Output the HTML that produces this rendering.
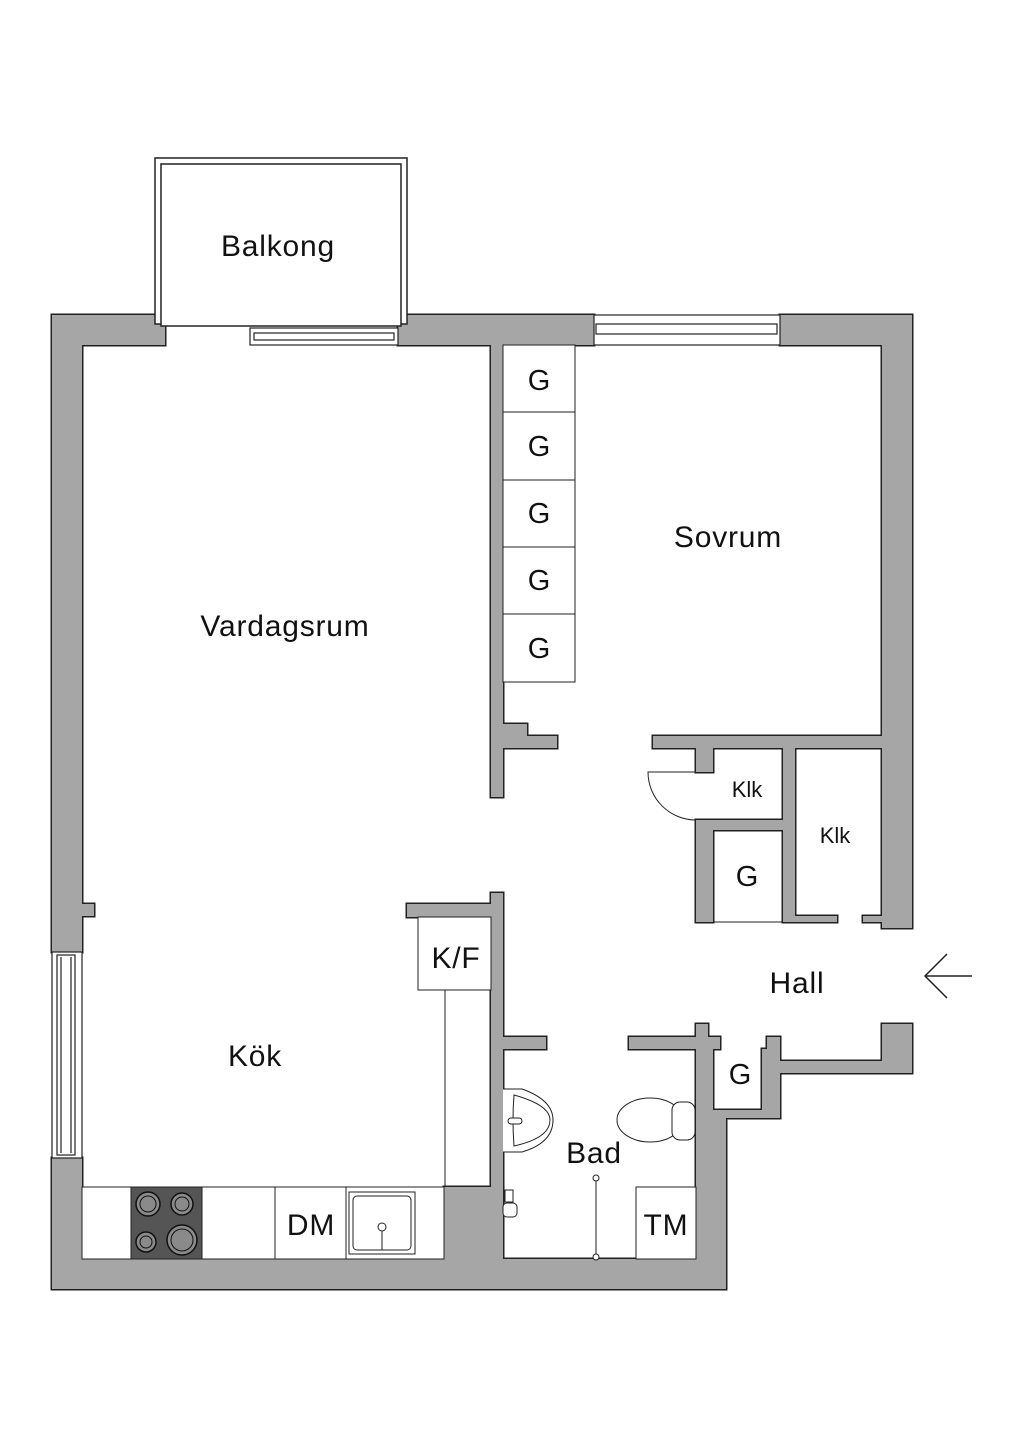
<!DOCTYPE html>
<html><head><meta charset="utf-8"><style>
html,body{margin:0;padding:0;background:#fff;}
svg{display:block;}
text{font-family:"Liberation Sans",sans-serif;fill:#111;text-anchor:middle;}
</style></head><body>
<svg width="1024" height="1448" viewBox="0 0 1024 1448" xmlns="http://www.w3.org/2000/svg">
<defs>
<g id="walls">
<rect x="52" y="315" width="113" height="30"/>
<rect x="398" y="315" width="196" height="30"/>
<rect x="780" y="315" width="132" height="30"/>
<rect x="52" y="315" width="30" height="637"/>
<rect x="82" y="904" width="12" height="12"/>
<rect x="52" y="1158" width="30" height="131"/>
<rect x="882" y="315" width="30" height="613"/>
<rect x="52" y="1259" width="674" height="30"/>
<rect x="491" y="345" width="12" height="452"/>
<path d="M503 724 H527 V736 H557 V748 H503 Z"/>
<rect x="653" y="736" width="229" height="12"/>
<rect x="696" y="748" width="17" height="24"/>
<rect x="696" y="820" width="87" height="10"/>
<rect x="696" y="820" width="17" height="102"/>
<rect x="783" y="748" width="12" height="174"/>
<rect x="795" y="916" width="42" height="6"/>
<rect x="863" y="916" width="19" height="6"/>
<rect x="407" y="904" width="84" height="13"/>
<rect x="491" y="893" width="12" height="396"/>
<rect x="444" y="1187" width="47" height="72"/>
<rect x="503" y="1037" width="43" height="12"/>
<path d="M629 1037 H696 V1024 H708 V1037 H720 V1049 H713 V1110 H762 V1049 H767 V1037 H780 V1061 H882 V1024 H912 V1073 H780 V1118 H726 V1289 H696 V1049 H629 Z"/>
</g>
</defs>
<use href="#walls" fill="#222" stroke="#222" stroke-width="3"/>
<use href="#walls" fill="#a6a6a6"/>
<!-- balcony -->
<rect x="155" y="158" width="252" height="166" fill="#fff" stroke="#222" stroke-width="1.5"/>
<rect x="161" y="164" width="240" height="162" fill="#fff" stroke="#222" stroke-width="1.5"/>
<!-- windows -->
<g fill="#fff" stroke="#222" stroke-width="1.2">
<rect x="250" y="328" width="148" height="17"/>
<rect x="254" y="333" width="140" height="7"/>
<rect x="594" y="315" width="186" height="30"/>
<rect x="596" y="324" width="181" height="10"/>
<rect x="52" y="952" width="30" height="206"/>
<rect x="57" y="955" width="18" height="200"/>
<line x1="61" y1="957" x2="61" y2="1153"/><line x1="71" y1="957" x2="71" y2="1153"/>
</g>
<g fill="#fff" stroke="#222" stroke-width="1">
<rect x="503" y="345" width="72" height="67"/>
<rect x="503" y="412" width="72" height="68"/>
<rect x="503" y="480" width="72" height="67"/>
<rect x="503" y="547" width="72" height="67"/>
<rect x="503" y="614" width="72" height="68"/>
<line x1="713" y1="922" x2="783" y2="922"/>
<path d="M696 772 H648 A48 48 0 0 0 696 820" fill="none"/>
<rect x="418" y="917" width="73" height="73"/>
<line x1="445" y1="990" x2="445" y2="1187"/>
<rect x="82" y="1187" width="362" height="72"/>
<line x1="275" y1="1187" x2="275" y2="1259"/>
<line x1="346" y1="1187" x2="346" y2="1259"/>
<rect x="349" y="1192" width="66" height="62"/>
<rect x="353" y="1196" width="58" height="54" rx="4"/>
<line x1="382" y1="1228" x2="382" y2="1250"/>
<circle cx="382" cy="1227" r="4"/>
<rect x="636" y="1187" width="60" height="72"/>
<path d="M503 1089 H522 Q553 1100 553 1120 Q553 1143 522 1152 H503"/>
<path d="M514 1095 Q550 1105 550 1120 Q550 1138 514 1146 Q512 1120 514 1095 Z"/>
<rect x="508" y="1118" width="14" height="6" rx="3"/>
<ellipse cx="650" cy="1120" rx="33" ry="22"/>
<rect x="672" y="1102" width="23" height="38" rx="8"/>
<line x1="596" y1="1178" x2="596" y2="1257"/>
<circle cx="596" cy="1178" r="3"/><circle cx="596" cy="1257" r="3"/>
<rect x="505" y="1190" width="8" height="12"/><rect x="503" y="1203" width="14" height="14" rx="4"/>
</g>
<rect x="131" y="1187" width="71" height="72" fill="#555" stroke="#222"/>
<g fill="#8a8a8a" stroke="#111" stroke-width="1.5">
<circle cx="148" cy="1204" r="12"/><circle cx="182" cy="1204" r="11"/>
<circle cx="146" cy="1242" r="10"/><circle cx="182" cy="1240" r="15"/>
</g>
<g fill="none" stroke="#111" stroke-width="1">
<circle cx="148" cy="1204" r="8"/><circle cx="182" cy="1204" r="7"/>
<circle cx="146" cy="1242" r="6"/><circle cx="182" cy="1240" r="11"/>
</g>
<g stroke="#222" stroke-width="1.5" fill="none">
<line x1="925" y1="976" x2="972" y2="976"/>
<polyline points="947,954 925,976 947,998"/>
</g>
<g font-size="30" letter-spacing="0.8">
<text x="278" y="256">Balkong</text>
<text x="285" y="636">Vardagsrum</text>
<text x="728" y="547">Sovrum</text>
<text x="797" y="993">Hall</text>
<text x="456" y="968">K/F</text>
<text x="255" y="1066">Kök</text>
<text x="594" y="1163">Bad</text>
<text x="311" y="1235">DM</text>
<text x="666" y="1235">TM</text>
</g>
<g font-size="29">
<text x="539" y="390">G</text><text x="539" y="456">G</text><text x="539" y="523">G</text>
<text x="539" y="590">G</text><text x="539" y="658">G</text>
<text x="747" y="886">G</text>
<text x="740" y="1084">G</text>
</g>
<g font-size="22">
<text x="747" y="797">Klk</text>
<text x="835" y="843">Klk</text>
</g>
</svg>
</body></html>
